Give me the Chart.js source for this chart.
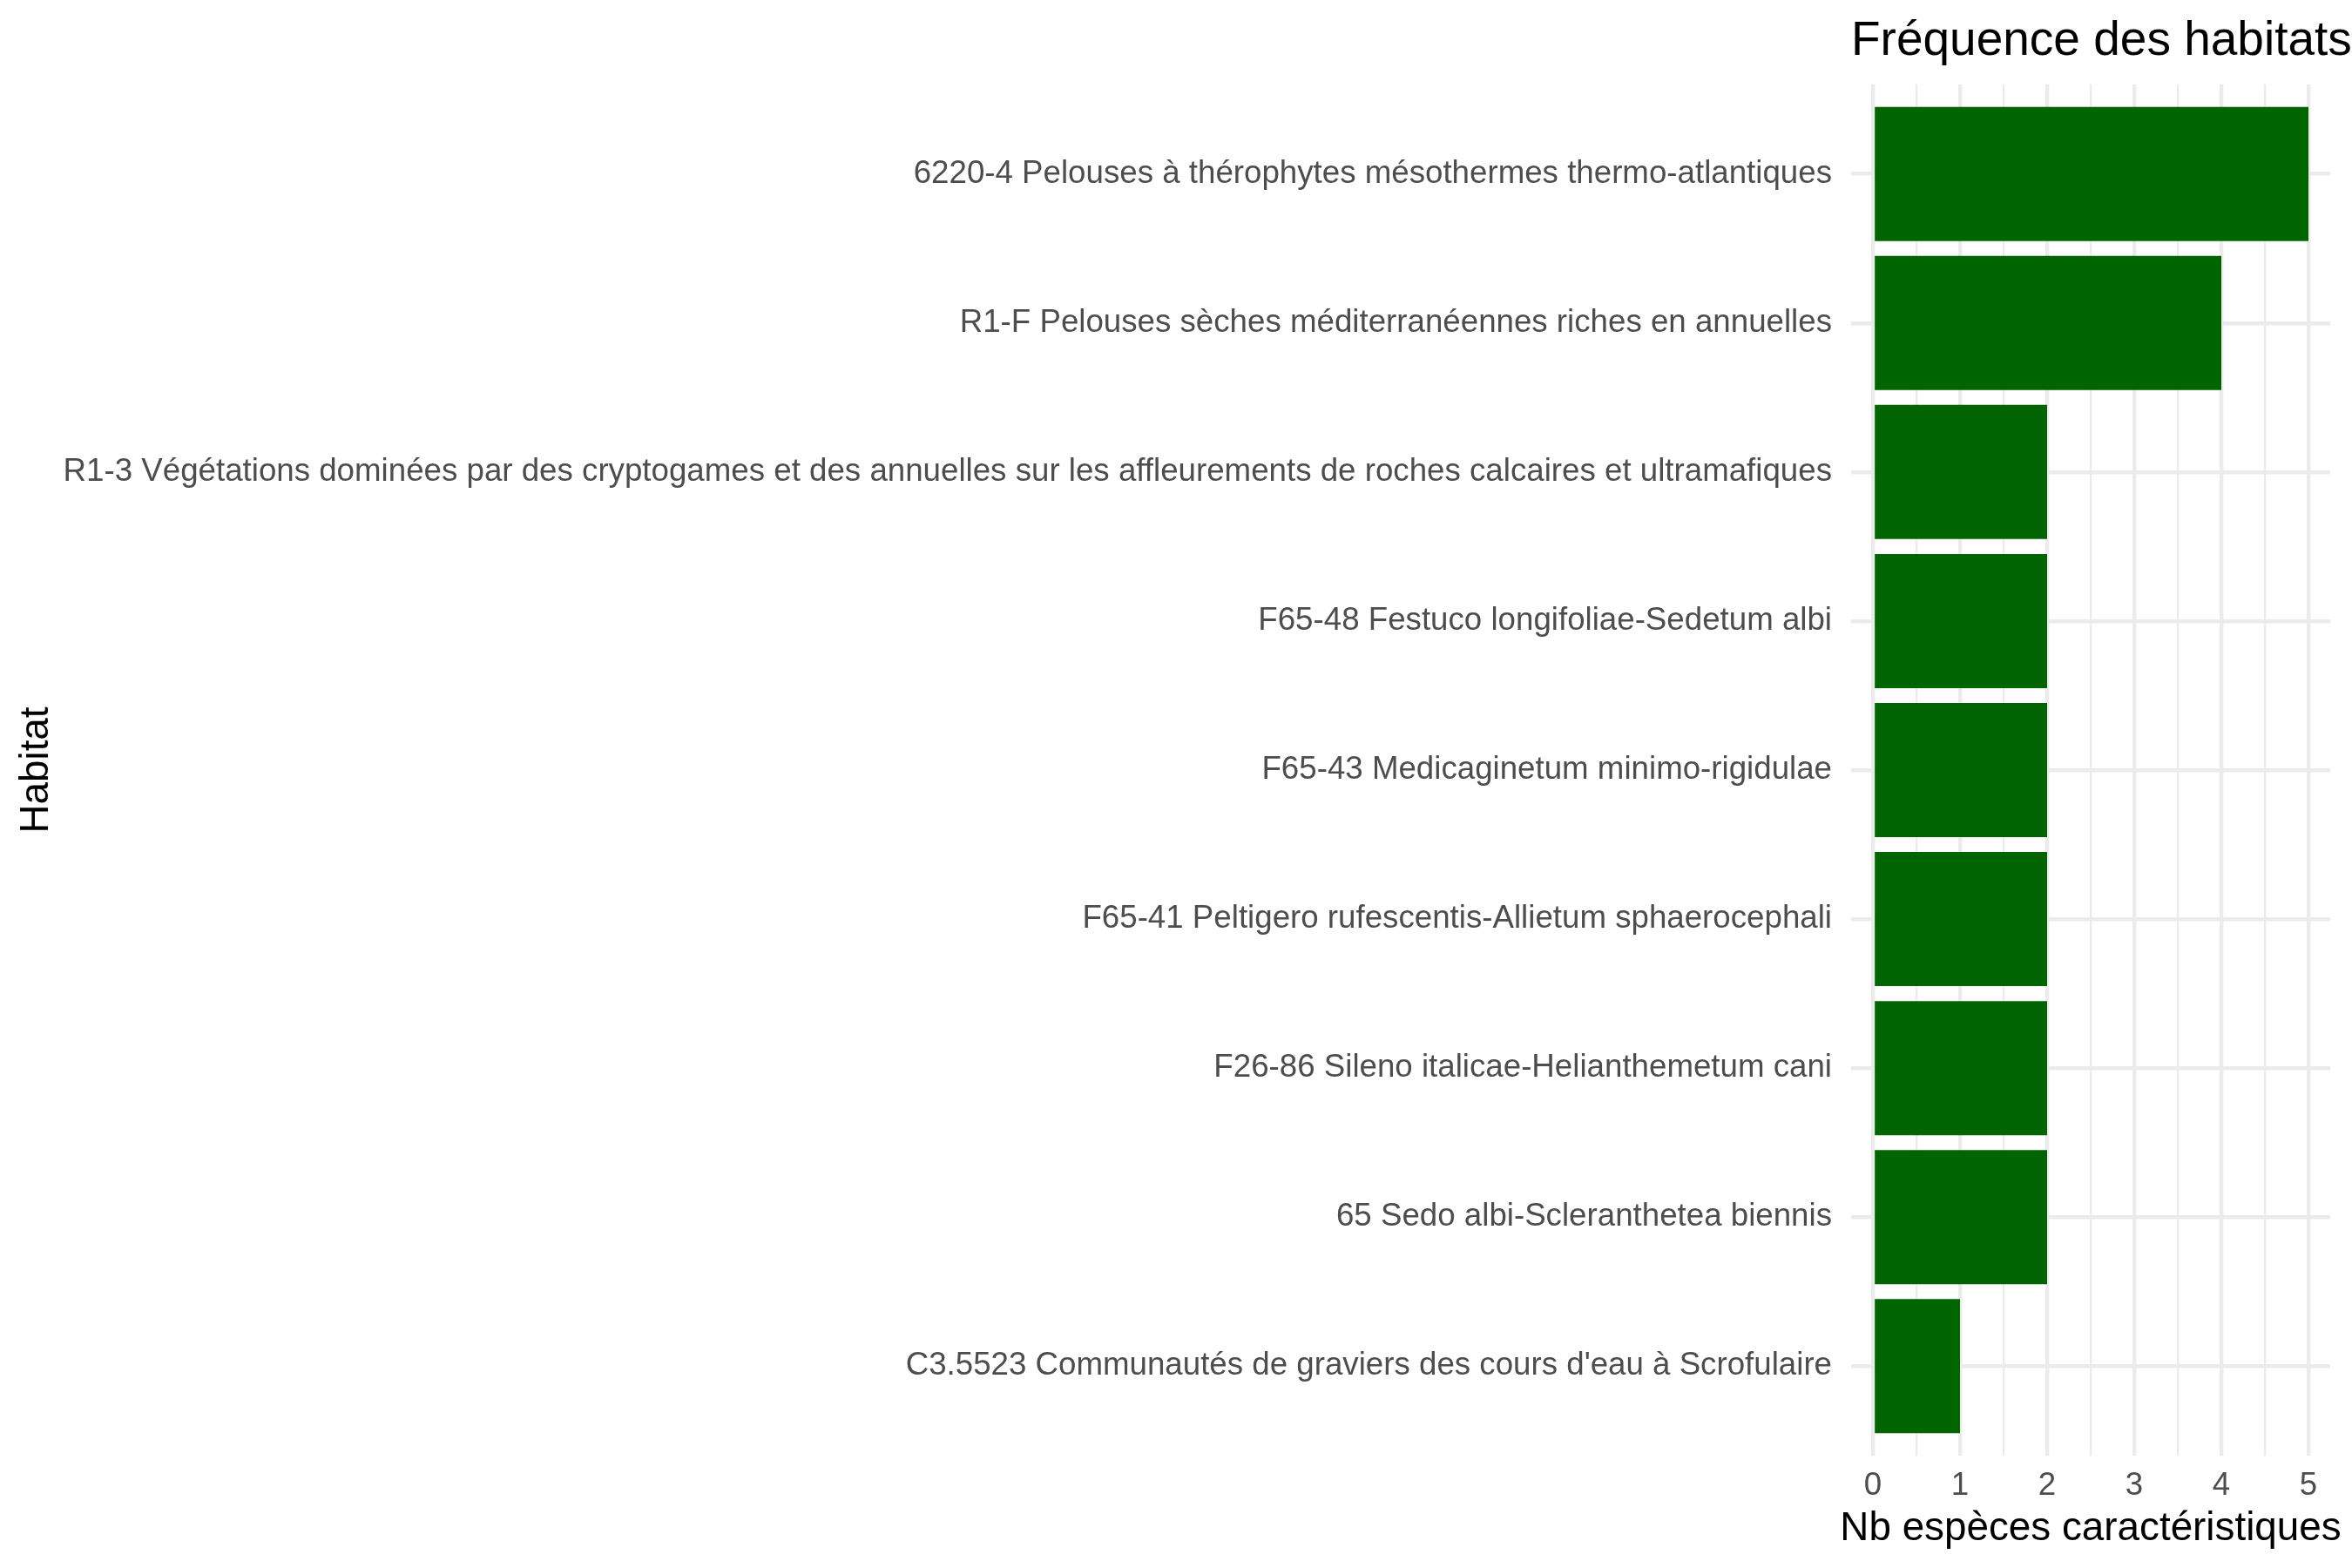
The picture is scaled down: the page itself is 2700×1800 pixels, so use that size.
<!DOCTYPE html>
<html>
<head>
<meta charset="utf-8">
<script src="https://cdn.jsdelivr.net/npm/chart.js@4.4.1/dist/chart.umd.min.js"></script>
<style>
  html, body { margin: 0; padding: 0; background: #ffffff; }
  #wrap { width: 2700px; height: 1800px; }
</style>
</head>
<body>
<div id="wrap"><canvas id="c" width="2700" height="1800"></canvas></div>
<script>
// ---- Data ----
const categories = [
  "6220-4 Pelouses à thérophytes mésothermes thermo-atlantiques",
  "R1-F Pelouses sèches méditerranéennes riches en annuelles",
  "R1-3 Végétations dominées par des cryptogames et des annuelles sur les affleurements de roches calcaires et ultramafiques",
  "F65-48 Festuco longifoliae-Sedetum albi",
  "F65-43 Medicaginetum minimo-rigidulae",
  "F65-41 Peltigero rufescentis-Allietum sphaerocephali",
  "F26-86 Sileno italicae-Helianthemetum cani",
  "65 Sedo albi-Scleranthetea biennis",
  "C3.5523 Communautés de graviers des cours d'eau à Scrofulaire"
];
const counts = [5, 4, 2, 2, 2, 2, 2, 2, 1];
const xTickValues = [0, 1, 2, 3, 4, 5];
const chartTitle = "Fréquence des habitats";
const xAxisTitle = "Nb espèces caractéristiques";
const yAxisTitle = "Habitat";

// ---- Styles ----
const FONT = "'Liberation Sans', Arial, Helvetica, sans-serif";
const GRID = "#EBEBEB";
const BAR = "#006400";
const TICK_COLOR = "#4D4D4D";

const points = counts.map((v, i) => ({ x: v, y: i }));

const textPlugin = {
  id: 'ggText',
  afterDraw(chart) {
    const ctx = chart.ctx;
    const a = chart.chartArea;
    ctx.save();
    ctx.fillStyle = '#000000';
    ctx.font = `55px ${FONT}`;
    ctx.textAlign = 'left';
    ctx.textBaseline = 'alphabetic';
    ctx.fillText(chartTitle, a.left, 63);
    ctx.font = `45.8px ${FONT}`;
    ctx.textAlign = 'center';
    ctx.fillText(xAxisTitle, (a.left + a.right) / 2, 1768);
    ctx.translate(55, (a.top + a.bottom) / 2);
    ctx.rotate(-Math.PI / 2);
    ctx.fillText(yAxisTitle, 0, 0);
    ctx.restore();
  }
};

new Chart(document.getElementById('c'), {
  type: 'bar',
  data: {
    datasets: [{
      data: points,
      backgroundColor: BAR,
      borderWidth: 0,
      categoryPercentage: 0.9,
      barPercentage: 1.0
    }]
  },
  options: {
    indexAxis: 'y',
    responsive: false,
    animation: false,
    devicePixelRatio: 1,
    layout: { padding: { left: 0, right: 25, top: 97, bottom: 0 } },
    plugins: {
      legend: { display: false },
      title: { display: false },
      tooltip: { enabled: false }
    },
    scales: {
      x: {
        type: 'linear',
        position: 'bottom',
        min: -0.25,
        max: 5.25,
        offset: false,
        afterBuildTicks(scale) {
          const t = [];
          for (let i = 0; i < xTickValues.length; i++) {
            t.push({ value: xTickValues[i] });
            if (i < xTickValues.length - 1) t.push({ value: (xTickValues[i] + xTickValues[i + 1]) / 2 });
          }
          scale.ticks = t;
        },
        afterFit(scale) { scale.height = 129; },
        border: { display: false },
        grid: {
          color: GRID,
          offset: false,
          lineWidth: (c) => (c.tick && Number.isInteger(c.tick.value)) ? 4.4 : 2.2,
          drawTicks: false
        },
        ticks: {
          autoSkip: false,
          maxRotation: 0,
          padding: 13,
          color: TICK_COLOR,
          font: { family: FONT, size: 36.7 },
          callback: (v) => Number.isInteger(v) ? String(v) : ''
        }
      },
      y: {
        type: 'linear',
        position: 'left',
        reverse: true,
        offset: false,
        min: -0.6,
        max: categories.length - 1 + 0.6,
        afterBuildTicks(scale) {
          scale.ticks = categories.map((_, i) => ({ value: i }));
        },
        afterFit(scale) { scale.width = 2125; },
        border: { display: false },
        grid: {
          color: GRID,
          offset: false,
          lineWidth: 4.4,
          drawTicks: false
        },
        ticks: {
          autoSkip: false,
          padding: 22,
          color: TICK_COLOR,
          font: { family: FONT, size: 36.7 },
          callback: (v) => categories[v] !== undefined ? categories[v] : ''
        }
      }
    }
  },
  plugins: [textPlugin]
});
</script>
</body>
</html>
